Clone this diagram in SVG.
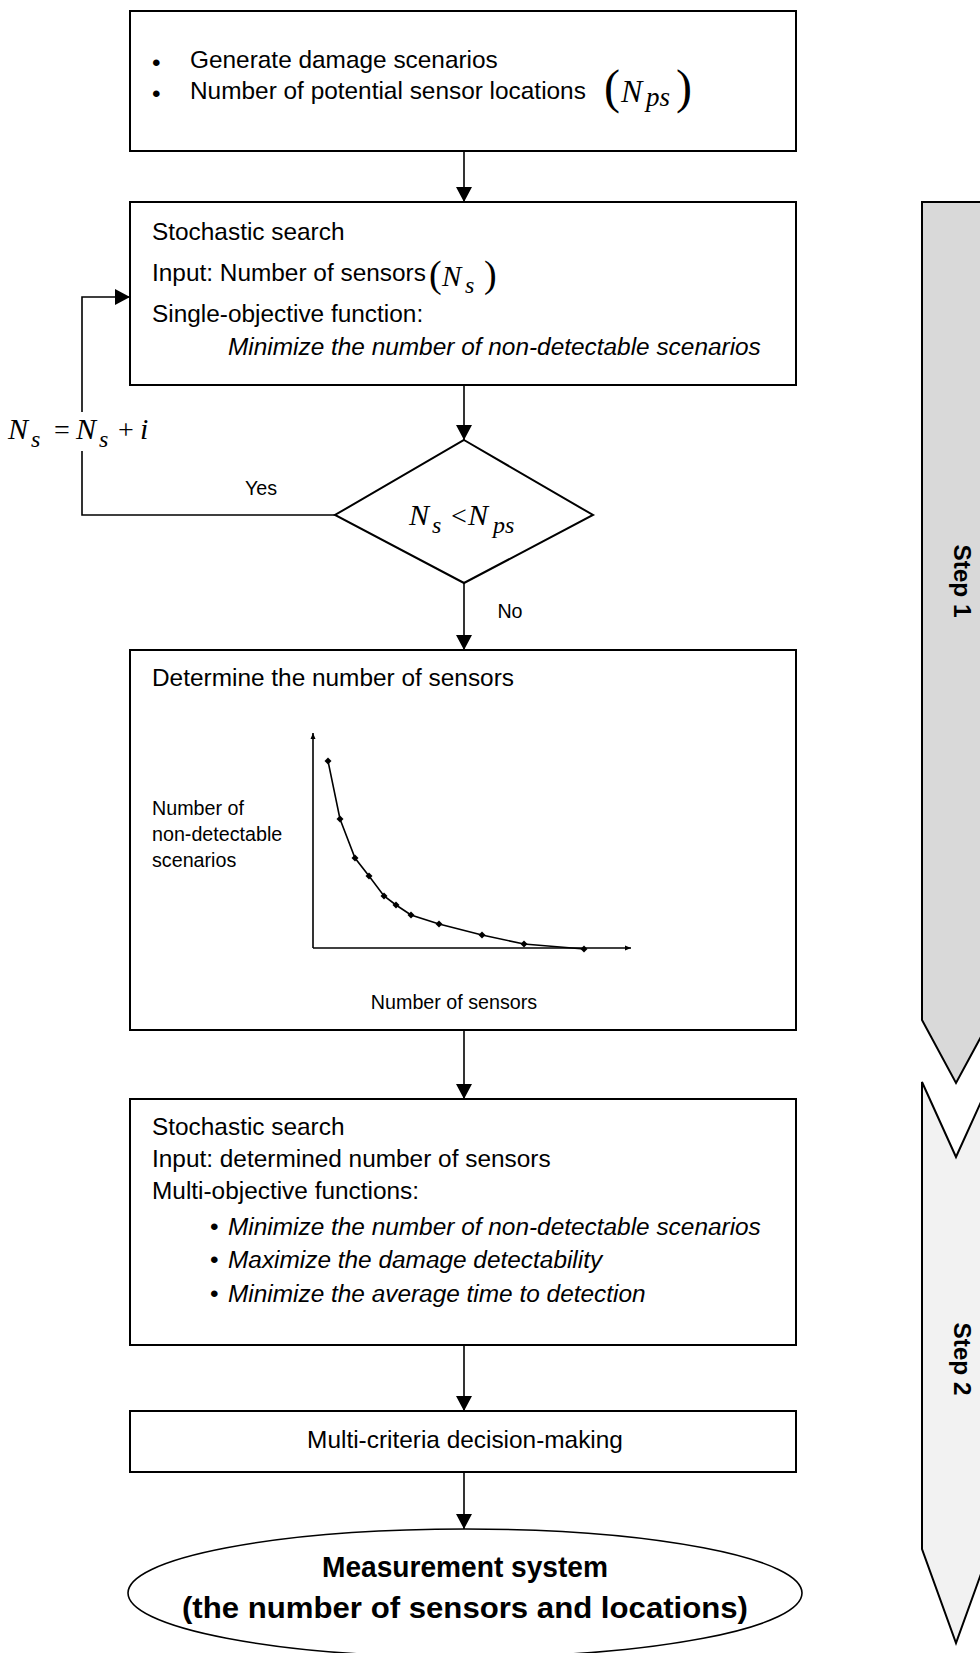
<svg xmlns="http://www.w3.org/2000/svg" width="980" height="1653" viewBox="0 0 980 1653">
<defs>
<marker id="ah" viewBox="0 0 15 16" markerWidth="15" markerHeight="16" refX="15" refY="8" orient="auto" markerUnits="userSpaceOnUse">
<path d="M0,0 L15,8 L0,16 z" fill="#000"/>
</marker>
<marker id="sa" viewBox="0 0 6 6" markerWidth="6" markerHeight="6" refX="6" refY="3" orient="auto" markerUnits="userSpaceOnUse">
<path d="M0,0.5 L6,3 L0,5.5 z" fill="#000"/>
</marker>
<marker id="dm" viewBox="-4 -4 8 8" markerWidth="8" markerHeight="8" refX="0" refY="0" orient="0" markerUnits="userSpaceOnUse">
<path d="M0,-3.5 L3.5,0 L0,3.5 L-3.5,0 z" fill="#000"/>
</marker>
</defs>
<style>
.box{fill:#fff;stroke:#000;stroke-width:2}
.t{font-family:"Liberation Sans",Arial,sans-serif;font-size:24.4px;fill:#000}
.s{font-size:19.7px}
.i{font-style:italic}
.b{font-weight:bold}
.bl{font-size:30px}
.m{font-family:"Liberation Serif","Times New Roman",serif;font-style:italic;fill:#000}
.u{font-style:normal}
.c{stroke:#000;stroke-width:1.6;fill:none}
.step{stroke:#000;stroke-width:2;stroke-linejoin:miter}
</style>

<g id="step1">
<polygon class="step" fill="#d9d9d9" points="922,202 922,1020 956,1083 990,1020 990,202"/>
<text class="t b" font-size="21" transform="translate(961,581) rotate(90)" text-anchor="middle" x="0" y="7">Step 1</text>
</g>
<g id="step2">
<polygon class="step" fill="#f2f2f2" points="922,1082 956,1157 990,1082 990,1549 956,1643 922,1549"/>
<text class="t b" font-size="21" transform="translate(961,1359) rotate(90)" text-anchor="middle" x="0" y="7">Step 2</text>
</g>

<g id="connectors">
<path class="c" d="M464,151 L464,202" marker-end="url(#ah)"/>
<path class="c" d="M464,385 L464,440" marker-end="url(#ah)"/>
<path class="c" d="M464,583 L464,650" marker-end="url(#ah)"/>
<path class="c" d="M464,1030 L464,1099" marker-end="url(#ah)"/>
<path class="c" d="M464,1345 L464,1411" marker-end="url(#ah)"/>
<path class="c" d="M464,1472 L464,1529" marker-end="url(#ah)"/>
<path class="c" d="M335,515 L82,515 L82,451"/>
<path class="c" d="M82,412 L82,297 L130,297" marker-end="url(#ah)"/>
<text class="t s" x="261" y="495" text-anchor="middle">Yes</text>
<text class="t s" x="510" y="618" text-anchor="middle">No</text>
<text class="m" font-size="30" y="439"><tspan x="8">N</tspan><tspan x="31" y="447" font-size="24">s</tspan><tspan class="u" x="54" y="439" font-size="28">=</tspan><tspan x="76">N</tspan><tspan x="99" y="447" font-size="24">s</tspan><tspan class="u" x="118" y="439" font-size="28">+</tspan><tspan x="140">i</tspan></text>
</g>

<g id="n1">
<rect class="box" x="130" y="11" width="666" height="140"/>
<text class="t" x="152" y="71" font-size="34">•</text>
<text class="t" x="190" y="68">Generate damage scenarios</text>
<text class="t" x="152" y="102" font-size="34">•</text>
<text class="t" x="190" y="99">Number of potential sensor locations</text>
<text class="m u" x="604" y="103" font-size="48" style="font-style:normal">(</text>
<text class="m" x="621" y="102" font-size="32">N</text>
<text class="m" x="646" y="106" font-size="27">ps</text>
<text class="m u" x="676" y="103" font-size="48" style="font-style:normal">)</text>
</g>

<g id="n2">
<rect class="box" x="130" y="202" width="666" height="183"/>
<text class="t" x="152" y="240">Stochastic search</text>
<text class="t" x="152" y="281">Input: Number of sensors</text>
<text class="m" x="429" y="287" font-size="38" style="font-style:normal">(</text>
<text class="m" x="442" y="286" font-size="29">N</text>
<text class="m" x="465" y="293" font-size="24">s</text>
<text class="m" x="484" y="287" font-size="38" style="font-style:normal">)</text>
<text class="t" x="152" y="322">Single-objective function:</text>
<text class="t i" x="228" y="355">Minimize the number of non-detectable scenarios</text>
</g>

<g id="n3">
<polygon class="box" points="464,440 593,515 464,583 335,515"/>
<text class="m" font-size="30" y="525"><tspan x="409">N</tspan><tspan x="432" y="533" font-size="24">s</tspan><tspan class="u" x="451" y="525" font-size="28">&lt;</tspan><tspan x="468">N</tspan><tspan x="493" y="533" font-size="24">ps</tspan></text>
</g>

<g id="n4">
<rect class="box" x="130" y="650" width="666" height="380"/>
<text class="t" x="152" y="686">Determine the number of sensors</text>
<text class="t s" x="152" y="815">Number of</text>
<text class="t s" x="152" y="841">non-detectable</text>
<text class="t s" x="152" y="867">scenarios</text>
<text class="t s" x="454" y="1009" text-anchor="middle">Number of sensors</text>
<path class="c" d="M313,948 L313,733" marker-end="url(#sa)"/>
<path class="c" d="M313,948 L631,948" marker-end="url(#sa)"/>
<polyline class="c" points="328,761 340,819 355,858 369,876 384,896 396,905 411,915 439,924 482,935 524,944 584,949" marker-start="url(#dm)" marker-mid="url(#dm)" marker-end="url(#dm)"/>
</g>

<g id="n5">
<rect class="box" x="130" y="1099" width="666" height="246"/>
<text class="t" x="152" y="1135">Stochastic search</text>
<text class="t" x="152" y="1167">Input: determined number of sensors</text>
<text class="t" x="152" y="1199">Multi-objective functions:</text>
<text class="t" x="210" y="1235">•</text>
<text class="t i" x="228" y="1235">Minimize the number of non-detectable scenarios</text>
<text class="t" x="210" y="1268">•</text>
<text class="t i" x="228" y="1268">Maximize the damage detectability</text>
<text class="t" x="210" y="1302">•</text>
<text class="t i" x="228" y="1302">Minimize the average time to detection</text>
</g>

<g id="n6">
<rect class="box" x="130" y="1411" width="666" height="61"/>
<text class="t" x="465" y="1448" text-anchor="middle">Multi-criteria decision-making</text>
</g>

<g id="n7">
<ellipse cx="465" cy="1593" rx="337" ry="64" fill="#fff" stroke="#000" stroke-width="1.6"/>
<text class="t b bl" x="465" y="1577" text-anchor="middle" textLength="286" lengthAdjust="spacingAndGlyphs">Measurement system</text>
<text class="t b bl" x="465" y="1618" text-anchor="middle" textLength="566" lengthAdjust="spacingAndGlyphs">(the number of sensors and locations)</text>
</g>
</svg>
